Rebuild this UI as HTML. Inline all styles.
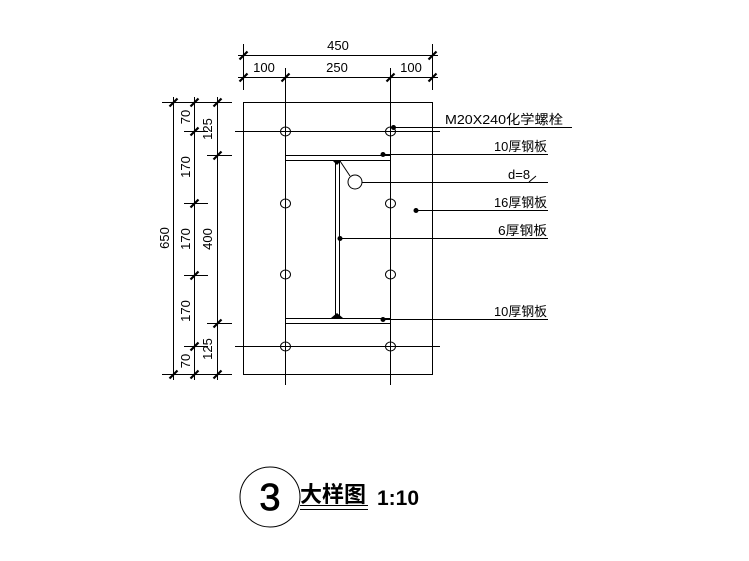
<!DOCTYPE html>
<html><head><meta charset="utf-8"><style>
body{margin:0;background:#fff}
svg{display:block}
text{font-family:"Liberation Sans","Noto Sans CJK SC",sans-serif;fill:#000}
</style></head><body>
<svg width="749" height="561" viewBox="0 0 749 561" xmlns="http://www.w3.org/2000/svg">
<defs>
<g id="tk"><line x1="-4" y1="4" x2="4" y2="-4" stroke="#000" stroke-width="2.2"/></g>
</defs>
<g stroke="#000" stroke-width="1" fill="none">
<!-- plate -->
<rect x="243.5" y="102.5" width="189" height="272"/>
<!-- bolt lines -->
<line x1="285.5" y1="68" x2="285.5" y2="385"/>
<line x1="390.5" y1="68" x2="390.5" y2="385"/>
<line x1="235" y1="131.5" x2="440" y2="131.5"/>
<line x1="235" y1="346.5" x2="440" y2="346.5"/>
<!-- ext lines top -->
<line x1="243.5" y1="44" x2="243.5" y2="90"/>
<line x1="432.5" y1="44" x2="432.5" y2="90"/>
<!-- dims top -->
<line x1="238" y1="55.5" x2="438" y2="55.5"/>
<line x1="238" y1="77.5" x2="438" y2="77.5"/>
<!-- left dims -->
<line x1="162" y1="102.5" x2="232" y2="102.5"/>
<line x1="162" y1="374.5" x2="232" y2="374.5"/>
<line x1="173.5" y1="97" x2="173.5" y2="380"/>
<line x1="194.5" y1="97" x2="194.5" y2="380"/>
<line x1="217.5" y1="97" x2="217.5" y2="380"/>
<line x1="184" y1="131.5" x2="208" y2="131.5"/>
<line x1="184" y1="203.5" x2="208" y2="203.5"/>
<line x1="184" y1="275.5" x2="208" y2="275.5"/>
<line x1="184" y1="346.5" x2="208" y2="346.5"/>
<line x1="207" y1="155.5" x2="232" y2="155.5"/>
<line x1="207" y1="323.5" x2="232" y2="323.5"/>
<!-- bolts -->
<ellipse cx="285.5" cy="131.5" rx="5" ry="4.5"/><ellipse cx="390.5" cy="131.5" rx="5" ry="4.5"/>
<ellipse cx="285.5" cy="203.5" rx="5" ry="4.5"/><ellipse cx="390.5" cy="203.5" rx="5" ry="4.5"/>
<ellipse cx="285.5" cy="274.5" rx="5" ry="4.5"/><ellipse cx="390.5" cy="274.5" rx="5" ry="4.5"/>
<ellipse cx="285.5" cy="346.5" rx="5" ry="4.5"/><ellipse cx="390.5" cy="346.5" rx="5" ry="4.5"/>
<!-- I section -->
<line x1="285" y1="155.5" x2="390" y2="155.5"/>
<line x1="285" y1="160.5" x2="390" y2="160.5"/>
<line x1="285" y1="318.5" x2="390" y2="318.5"/>
<line x1="285" y1="323.5" x2="390" y2="323.5"/>
<line x1="335.5" y1="160" x2="335.5" y2="318"/>
<line x1="339.5" y1="160" x2="339.5" y2="318"/>
<!-- leaders -->
<line x1="393" y1="127.5" x2="572" y2="127.5"/>
<line x1="383" y1="154.5" x2="548" y2="154.5"/>
<circle cx="355" cy="182" r="7"/>
<line x1="350" y1="176" x2="340" y2="161"/>
<line x1="362" y1="182.5" x2="548" y2="182.5"/>
<line x1="416" y1="210.5" x2="548" y2="210.5"/>
<line x1="340" y1="238.5" x2="548" y2="238.5"/>
<line x1="383" y1="319.5" x2="548" y2="319.5"/>
<line x1="529" y1="182" x2="536" y2="176"/>
<!-- title -->
<circle cx="270" cy="497" r="30"/>
<line x1="300" y1="505.5" x2="368" y2="505.5"/>
<line x1="300" y1="509.5" x2="368" y2="509.5"/>
</g>
<!-- ticks -->
<use href="#tk" x="243.5" y="55.5"/><use href="#tk" x="432.5" y="55.5"/>
<use href="#tk" x="243.5" y="77.5"/><use href="#tk" x="285.5" y="77.5"/><use href="#tk" x="390.5" y="77.5"/><use href="#tk" x="432.5" y="77.5"/>
<use href="#tk" x="173.5" y="102.5"/><use href="#tk" x="194.5" y="102.5"/><use href="#tk" x="217.5" y="102.5"/>
<use href="#tk" x="173.5" y="374.5"/><use href="#tk" x="194.5" y="374.5"/><use href="#tk" x="217.5" y="374.5"/>
<use href="#tk" x="194.5" y="131.5"/><use href="#tk" x="194.5" y="203.5"/><use href="#tk" x="194.5" y="275.5"/><use href="#tk" x="194.5" y="346.5"/>
<use href="#tk" x="217.5" y="155.5"/><use href="#tk" x="217.5" y="323.5"/>
<!-- dots -->
<g fill="#000">
<circle cx="393.5" cy="127.5" r="2.5"/><circle cx="383" cy="154.5" r="2.5"/>
<circle cx="416" cy="210.5" r="2.5"/><circle cx="340" cy="238.5" r="2.5"/><circle cx="383" cy="319.5" r="2.5"/>
<path d="M332 160 L337 165 L342 160Z"/><path d="M331 318 L337 313 L343 318Z"/>
</g>
<!-- texts -->
<g font-size="13">
<text x="338" y="50" text-anchor="middle">450</text>
<text x="264" y="72" text-anchor="middle">100</text>
<text x="337" y="72" text-anchor="middle">250</text>
<text x="411" y="72" text-anchor="middle">100</text>
<text transform="translate(169,238) rotate(-90)" text-anchor="middle">650</text>
<text transform="translate(190,117) rotate(-90)" text-anchor="middle">70</text>
<text transform="translate(190,167) rotate(-90)" text-anchor="middle">170</text>
<text transform="translate(190,239) rotate(-90)" text-anchor="middle">170</text>
<text transform="translate(190,311) rotate(-90)" text-anchor="middle">170</text>
<text transform="translate(190,361) rotate(-90)" text-anchor="middle">70</text>
<text transform="translate(212,129) rotate(-90)" text-anchor="middle">125</text>
<text transform="translate(212,239) rotate(-90)" text-anchor="middle">400</text>
<text transform="translate(212,349) rotate(-90)" text-anchor="middle">125</text>
<text x="445" y="124" textLength="118" lengthAdjust="spacingAndGlyphs">M20X240化学螺栓</text>
<text x="494" y="151" textLength="53" lengthAdjust="spacingAndGlyphs">10厚钢板</text>
<text x="508" y="179">d=8</text>
<text x="494" y="207" textLength="53" lengthAdjust="spacingAndGlyphs">16厚钢板</text>
<text x="498" y="235" textLength="49" lengthAdjust="spacingAndGlyphs">6厚钢板</text>
<text x="494" y="316" textLength="53" lengthAdjust="spacingAndGlyphs">10厚钢板</text>
</g>
<text x="270" y="510" font-size="38" text-anchor="middle" fill="none" stroke="#000" stroke-width="0.8">3</text>
<text x="300" y="502" font-size="22" font-weight="bold" textLength="66" lengthAdjust="spacingAndGlyphs">大样图</text>
<text x="377" y="505" font-size="21" font-weight="bold">1:10</text>
</svg>
</body></html>
